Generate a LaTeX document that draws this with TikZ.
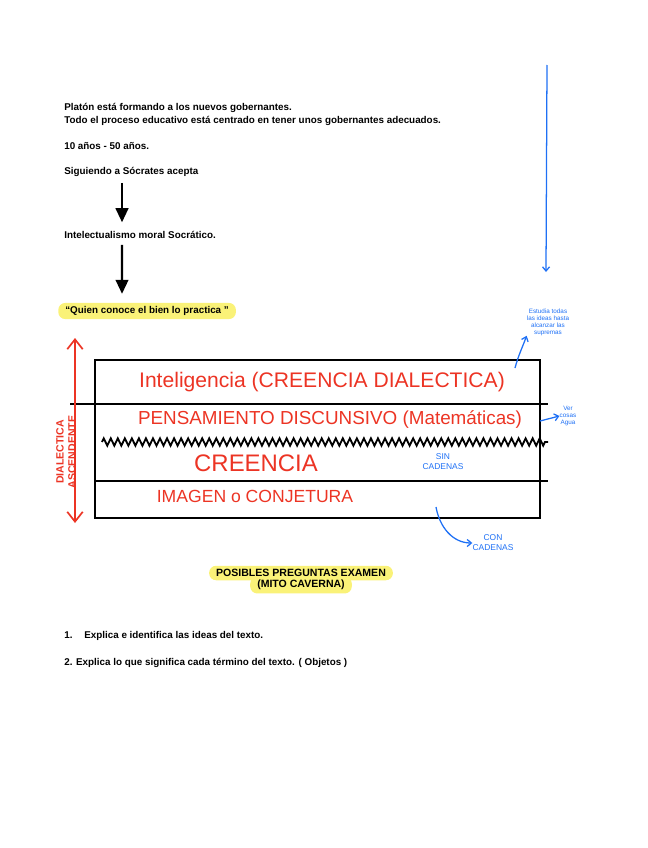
\documentclass[tikz,border=0pt]{standalone}
\usepackage{fontspec}
\setmainfont{Liberation Sans}
\usetikzlibrary{arrows.meta,positioning,calc,decorations.pathmorphing}

\definecolor{marker}{RGB}{250,242,120}
\definecolor{pen}{RGB}{236,52,36}
\definecolor{ink}{RGB}{30,112,245}

\begin{document}
\begin{tikzpicture}[x=0.025cm, y=-0.025cm,
  txt/.style={anchor=west, inner sep=0pt, font=\fontsize{7}{8.5}\selectfont\bfseries},
  bigarrow/.style={-{Triangle[length=10pt,width=9pt]}, line width=1.6pt},
  hl/.style={fill=marker, rounded corners=5pt, inner xsep=5pt, inner ysep=2.5pt},
  redtxt/.style={text=pen, inner sep=0pt},
  bluetxt/.style={text=ink, font=\fontsize{4.5}{5}\selectfont, align=center, inner sep=0pt},
  bluearrow/.style={-{Straight Barb[length=3pt,width=5pt]}, ink, line width=0.9pt},
  rule/.style={line width=1.3pt}]
\useasboundingbox (0,0) rectangle (648,848);

% texto de arriba
\node[txt] (plat) at (64,108) {Platón está formando a los nuevos gobernantes.};
\node[txt] (todo) at (64,121) {Todo el proceso educativo está centrado en tener unos gobernantes adecuados.};
\node[txt] (edad) at (64,146) {10 años - 50 años.};
\node[txt] (sig) at (64,172) {Siguiendo a Sócrates acepta};
\node[txt] (int) at (64,235) {Intelectualismo moral Socrático.};
\node[txt, hl] (quien) at (58,311) {“Quien conoce el bien lo practica ”};
\draw[bigarrow] ([xshift=1.45cm,yshift=-0.15cm]sig.south west) -- ([xshift=1.45cm,yshift=0.22cm]int.north west);
\draw[bigarrow] ([xshift=1.45cm,yshift=-0.15cm]int.south west) -- ([xshift=1.6cm,yshift=0.22cm]quien.north west);

% flecha azul
\coordinate (b1) at (547,65);
\coordinate (b2) at (546,272);
\draw[bluearrow] (b1) -- (b2);

% las lineas
\draw[rule] (95,360) rectangle (540,518);
\draw[rule] (70,404) -- (548,404);
\draw[line width=1.3pt, decorate, decoration={zigzag, segment length=5pt, amplitude=2.6pt}] (102,442) -- (548,442);
\draw[rule] (95,481) -- (548,481);

\node[redtxt, font=\fontsize{15}{17}\selectfont] (l1) at (322,382) {Inteligencia (CREENCIA DIALECTICA)};
\node[redtxt, font=\fontsize{13.4}{15}\selectfont] (l2) at (330,420) {PENSAMIENTO DISCUNSIVO (Matemáticas)};
\node[redtxt, font=\fontsize{17}{19}\selectfont] (l3) at (256,463) {CREENCIA};
\node[redtxt, font=\fontsize{12.5}{14}\selectfont] (l4) at (255,496) {IMAGEN o CONJETURA};

% dialectica
\coordinate (rtop) at (75,338);
\coordinate (rbot) at (75,523);
\draw[pen, line width=1.2pt, {Straight Barb[length=7pt,width=11pt]}-{Straight Barb[length=7pt,width=11pt]}] (rbot) -- (rtop);
\node[rotate=90, text=pen, font=\fontsize{7.5}{8.5}\selectfont\bfseries, align=center, inner sep=0pt] (dial) at (66,452) {DIALECTICA\\ASCENDENTE};

% notas azules
\node[bluetxt] (estudia) at (548,322) {Estudia todas\\las ideas hasta\\alcanzar las\\supremas};
\coordinate (e0) at (515,368);
\draw[bluearrow] (e0) to[out=75,in=250] (estudia.south west);
\node[bluetxt] (ver) at (568,416) {Ver\\cosas\\Agua};
\coordinate (v0) at (540,421);
\draw[bluearrow] (v0) -- (ver.west);
\node[bluetxt, font=\fontsize{6}{7}\selectfont] (sin) at (443,462) {SIN\\CADENAS};
\node[bluetxt, font=\fontsize{6}{7}\selectfont] (con) at (493,543) {CON\\CADENAS};
\coordinate (c0) at (436,507);
\draw[bluearrow] (c0) to[out=-80,in=180] (con.west);

% preguntas
\node[hl, font=\fontsize{7.5}{9}\selectfont\bfseries] (pos1) at (301,573) {POSIBLES PREGUNTAS EXAMEN};
\node[hl, font=\fontsize{7.5}{9}\selectfont\bfseries, below=-3pt of pos1] (pos2) {(MITO CAVERNA)};
\node[txt] (q1) at (64,636) {1.\hspace{1.2em}Explica e identifica las ideas del texto.};
\node[txt] (q2) at (64,663) {2. Explica lo que significa cada término del texto. ( Objetos )};
\end{tikzpicture}
\end{document}
